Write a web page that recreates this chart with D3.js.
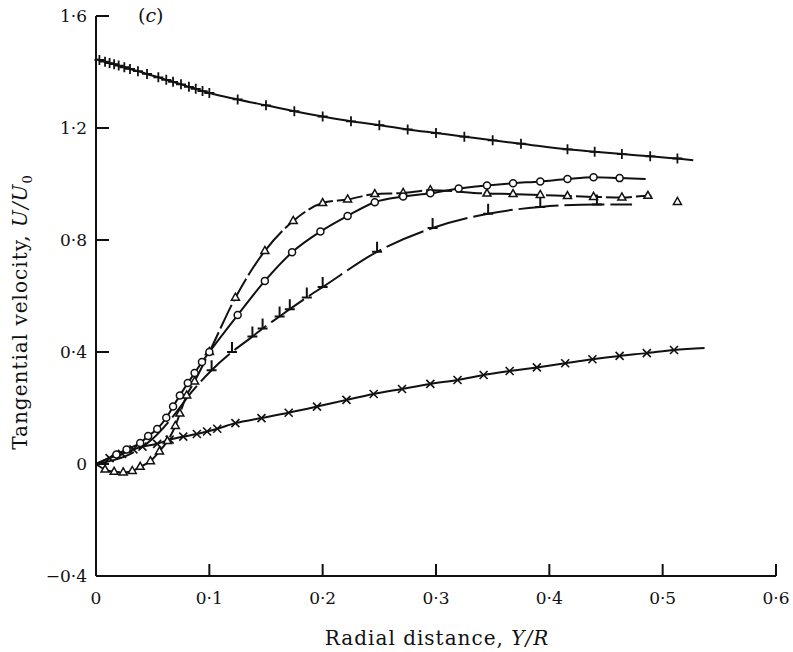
<!DOCTYPE html>
<html>
<head>
<meta charset="utf-8">
<script src="https://cdn.jsdelivr.net/npm/d3@7"></script>
<style>
  body { margin: 0; background: #fff; }
  text { font-family: "DejaVu Serif", "Liberation Serif", serif; fill: #111; }
</style>
</head>
<body>
<svg id="chart" width="793" height="652"></svg>
<script>
const WIDTH = 793;
const HEIGHT = 652;

// --- axis ticks ---
const xTicks = [0, 0.1, 0.2, 0.3, 0.4, 0.5, 0.6];
const xTickLabels = ["0", "0·1", "0·2", "0·3", "0·4", "0·5", "0·6"];
const yTicks = [-0.4, 0, 0.4, 0.8, 1.2, 1.6];
const yTickLabels = ["−0·4", "0", "0·4", "0·8", "1·2", "1·6"];

// --- series (markers), plus line-only ends ---
const plusPts = [[0.003,1.443],[0.008,1.437],[0.012,1.432],[0.016,1.428],[0.02,1.423],[0.025,1.417],[0.03,1.411],
  [0.037,1.403],[0.045,1.393],[0.055,1.381],[0.062,1.372],[0.068,1.365],[0.075,1.356],[0.082,1.347],[0.088,1.34],
  [0.094,1.332],[0.1,1.325],[0.125,1.302],[0.15,1.281],[0.175,1.26],[0.2,1.241],[0.225,1.224],[0.25,1.21],
  [0.275,1.195],[0.3,1.182],[0.325,1.169],[0.35,1.156],[0.375,1.144],[0.416,1.124],[0.44,1.115],
  [0.464,1.107],[0.489,1.099],[0.513,1.091]];
const plusEnds = [[0,1.446],[0.527,1.085]];

const triPts = [[0.008,-0.02],[0.016,-0.028],[0.024,-0.03],[0.032,-0.025],[0.039,-0.01],[0.048,0.01],
  [0.056,0.045],[0.063,0.082],[0.07,0.136],[0.074,0.18],[0.08,0.245],[0.087,0.295],[0.1,0.4],
  [0.123,0.594],[0.149,0.761],[0.174,0.868],[0.2,0.932],[0.222,0.945],[0.246,0.964],[0.271,0.968],
  [0.295,0.978],[0.345,0.966],[0.368,0.964],[0.392,0.961],[0.416,0.957],[0.439,0.954],[0.464,0.952],[0.487,0.958]];
const triEnds = [[0,0],[0.49,0.958]];
const triLoose = [[0.513,0.936]];

const circPts = [[0.018,0.034],[0.027,0.052],[0.039,0.075],[0.046,0.1],[0.054,0.125],[0.062,0.165],
  [0.068,0.205],[0.074,0.245],[0.081,0.289],[0.087,0.325],[0.0935,0.364],[0.1,0.4],[0.125,0.532],
  [0.149,0.654],[0.173,0.756],[0.198,0.83],[0.222,0.886],[0.246,0.935],[0.271,0.955],[0.295,0.967],
  [0.32,0.984],[0.345,0.995],[0.368,1.003],[0.392,1.009],[0.416,1.018],[0.439,1.024],[0.462,1.021]];
const circEnds = [[0,0],[0.485,1.018]];

const teePts = [[0.102,0.335],[0.12,0.4],[0.138,0.455],[0.147,0.484],[0.162,0.527],[0.171,0.553],
  [0.186,0.595],[0.2,0.632],[0.248,0.758],[0.297,0.843],[0.346,0.894],[0.392,0.918],[0.442,0.927]];
const teeLead = [[0,0],[0.03,0.035],[0.05,0.09],[0.068,0.17],[0.085,0.26]];
const teeEnd = [[0.473,0.927]];

const crossPts = [[0.012,0.021],[0.023,0.036],[0.033,0.052],[0.041,0.062],[0.054,0.072],[0.065,0.087],
  [0.077,0.098],[0.089,0.107],[0.098,0.116],[0.107,0.126],[0.123,0.146],[0.146,0.164],[0.17,0.183],
  [0.195,0.205],[0.221,0.229],[0.245,0.25],[0.27,0.268],[0.295,0.286],[0.319,0.3],[0.342,0.318],
  [0.365,0.332],[0.389,0.345],[0.414,0.36],[0.438,0.374],[0.462,0.386],[0.486,0.396],[0.51,0.407]];
const crossEnds = [[0,0],[0.537,0.414]];

// --- scales ---
const x = d3.scaleLinear().domain([0, 0.6]).range([96, 776]);
const y = d3.scaleLinear().domain([-0.4, 1.6]).range([576, 16]);

const svg = d3.select("#chart");

// axes
const axisG = svg.append("g").attr("stroke", "#111").attr("stroke-width", 2).attr("fill", "none");
axisG.append("line").attr("x1", x(0)).attr("x2", x(0)).attr("y1", y(1.6)).attr("y2", y(-0.4));
axisG.append("line").attr("x1", x(0)).attr("x2", x(0.6)).attr("y1", y(-0.4)).attr("y2", y(-0.4));

axisG.selectAll(".xt").data(xTicks.slice(1)).join("line")
  .attr("x1", d => x(d)).attr("x2", d => x(d))
  .attr("y1", y(-0.4)).attr("y2", y(-0.4) - 12);
axisG.selectAll(".yt").data(yTicks.slice(1)).join("line")
  .attr("x1", x(0)).attr("x2", x(0) + 13)
  .attr("y1", d => y(d)).attr("y2", d => y(d));

svg.append("g").selectAll("text").data(xTicks).join("text")
  .attr("x", d => x(d)).attr("y", y(-0.4) + 28)
  .attr("text-anchor", "middle").attr("font-size", 17)
  .text((d, i) => xTickLabels[i]);

svg.append("g").selectAll("text").data(yTicks).join("text")
  .attr("x", x(0) - 9).attr("y", d => y(d) + 6)
  .attr("text-anchor", "end").attr("font-size", 17)
  .text((d, i) => yTickLabels[i]);

// axis titles
const xTitle = svg.append("text").attr("x", 437).attr("y", 645)
  .attr("text-anchor", "middle").attr("font-size", 20).attr("letter-spacing", 1);
xTitle.append("tspan").text("Radial distance, ");
xTitle.append("tspan").attr("font-style", "italic").text("Y/R");

const yTitle = svg.append("text")
  .attr("transform", "translate(27,312) rotate(-90)")
  .attr("text-anchor", "middle").attr("font-size", 20).attr("letter-spacing", 1);
yTitle.append("tspan").text("Tangential velocity, ");
yTitle.append("tspan").attr("font-style", "italic").text("U/U");
yTitle.append("tspan").attr("font-size", 13).attr("dy", 5).text("0");

const panel = svg.append("text").attr("x", 138).attr("y", 22).attr("font-size", 19);
panel.append("tspan").text("(");
panel.append("tspan").attr("font-style", "italic").text("c");
panel.append("tspan").text(")");

// curves (the triangle and tee lines are drawn broken, as in print)
const line = d3.line().x(d => x(d[0])).y(d => y(d[1])).curve(d3.curveMonotoneX);
const curves = [
  { pts: [plusEnds[0], ...plusPts, plusEnds[1]], dash: null },
  { pts: [triEnds[0], ...triPts, triEnds[1]], dash: "26,4" },
  { pts: [circEnds[0], ...circPts, circEnds[1]], dash: null },
  { pts: [...teeLead, ...teePts, ...teeEnd], dash: "40,6" },
  { pts: [crossEnds[0], ...crossPts, crossEnds[1]], dash: null }
];
svg.append("g").selectAll("path").data(curves).join("path")
  .attr("d", d => line(d.pts)).attr("fill", "none")
  .attr("stroke", "#111").attr("stroke-width", 2)
  .attr("stroke-dasharray", d => d.dash);

// markers
const mk = svg.append("g").attr("stroke", "#111").attr("fill", "#fff");

mk.selectAll(".plus").data(plusPts).join("path")
  .attr("stroke-width", 1.8)
  .attr("d", d => `M${x(d[0]) - 5},${y(d[1])}h10M${x(d[0])},${y(d[1]) - 5}v10`);

mk.selectAll(".cross").data(crossPts).join("path")
  .attr("stroke-width", 1.6)
  .attr("d", d => `M${x(d[0]) - 4},${y(d[1]) - 4}l8,8M${x(d[0]) - 4},${y(d[1]) + 4}l8,-8`);

mk.selectAll(".tee").data(teePts).join("path")
  .attr("stroke-width", 2)
  .attr("d", d => `M${x(d[0]) - 5},${y(d[1])}h10M${x(d[0])},${y(d[1])}v-10`);

mk.selectAll(".tri").data([...triPts, ...triLoose]).join("path")
  .attr("stroke-width", 1.5)
  .attr("d", d => `M${x(d[0])},${y(d[1]) - 4.5}l4,7h-8z`);

mk.selectAll(".circ").data(circPts).join("circle")
  .attr("stroke-width", 1.5)
  .attr("cx", d => x(d[0])).attr("cy", d => y(d[1])).attr("r", 3.5);
</script>
</body>
</html>
